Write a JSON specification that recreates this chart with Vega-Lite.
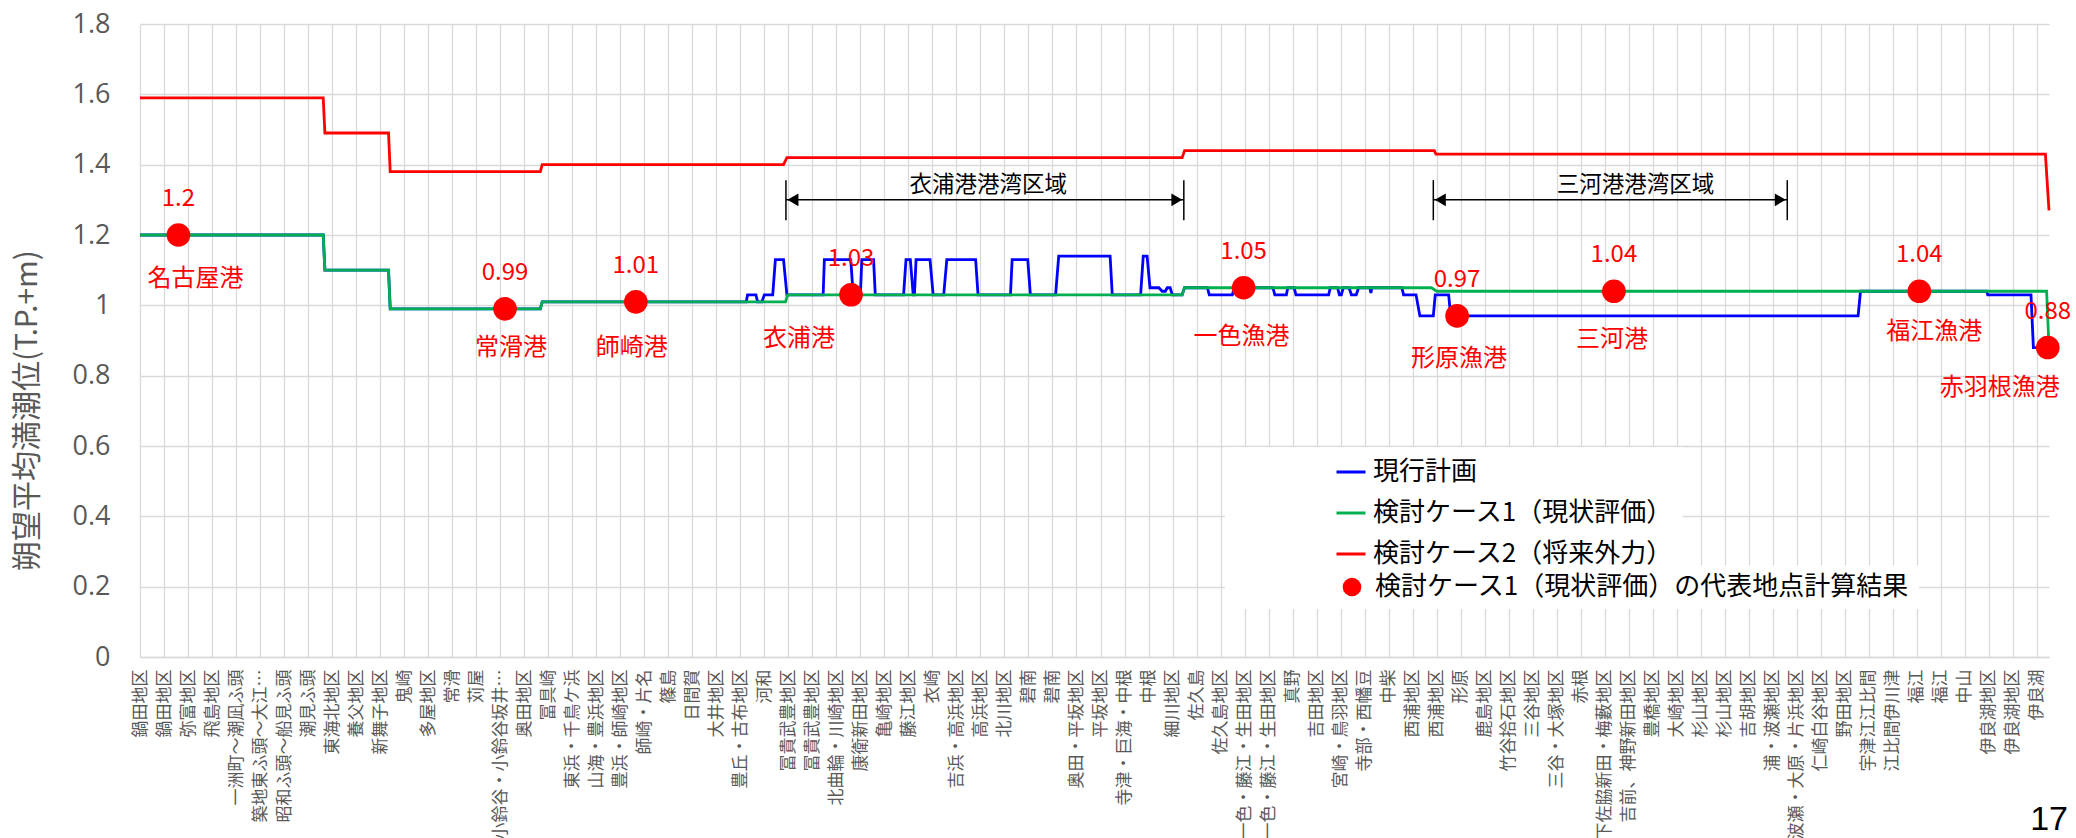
{
  "$schema": "https://vega.github.io/schema/vega-lite/v6.json",
  "width": 1909,
  "height": 633,
  "autosize": {"type": "none"},
  "padding": {"left": 140, "top": 24, "right": 27, "bottom": 181},
  "background": "white",
  "config": {"font": "Noto Sans CJK JP", "view": {"stroke": null}},
  "title": {"text": "17", "orient": "bottom", "anchor": "end", "frame": "group", "align": "right", "baseline": "alphabetic", "fontSize": 34, "fontWeight": "normal", "color": "#000000", "font": "Liberation Sans", "offset": -9, "dx": 19},
  "datasets": {
    "lines": [
      {"series": "現行計画", "i": 0, "x": 0, "y": 1.2},
      {"series": "現行計画", "i": 1, "x": 7.63, "y": 1.2},
      {"series": "現行計画", "i": 2, "x": 7.7, "y": 1.1},
      {"series": "現行計画", "i": 3, "x": 10.35, "y": 1.1},
      {"series": "現行計画", "i": 4, "x": 10.42, "y": 0.99},
      {"series": "現行計画", "i": 5, "x": 16.67, "y": 0.99},
      {"series": "現行計画", "i": 6, "x": 16.75, "y": 1.01},
      {"series": "現行計画", "i": 7, "x": 25.25, "y": 1.01},
      {"series": "現行計画", "i": 8, "x": 25.3, "y": 1.03},
      {"series": "現行計画", "i": 9, "x": 25.65, "y": 1.03},
      {"series": "現行計画", "i": 10, "x": 25.72, "y": 1.01},
      {"series": "現行計画", "i": 11, "x": 25.9, "y": 1.01},
      {"series": "現行計画", "i": 12, "x": 26.0, "y": 1.03},
      {"series": "現行計画", "i": 13, "x": 26.35, "y": 1.03},
      {"series": "現行計画", "i": 14, "x": 26.46, "y": 1.13},
      {"series": "現行計画", "i": 15, "x": 26.8, "y": 1.13},
      {"series": "現行計画", "i": 16, "x": 26.94, "y": 1.03},
      {"series": "現行計画", "i": 17, "x": 28.45, "y": 1.03},
      {"series": "現行計画", "i": 18, "x": 28.5, "y": 1.13},
      {"series": "現行計画", "i": 19, "x": 29.6, "y": 1.13},
      {"series": "現行計画", "i": 20, "x": 29.7, "y": 1.03},
      {"series": "現行計画", "i": 21, "x": 30.0, "y": 1.03},
      {"series": "現行計画", "i": 22, "x": 30.06, "y": 1.13},
      {"series": "現行計画", "i": 23, "x": 30.55, "y": 1.13},
      {"series": "現行計画", "i": 24, "x": 30.62, "y": 1.03},
      {"series": "現行計画", "i": 25, "x": 31.8, "y": 1.03},
      {"series": "現行計画", "i": 26, "x": 31.9, "y": 1.13},
      {"series": "現行計画", "i": 27, "x": 32.08, "y": 1.13},
      {"series": "現行計画", "i": 28, "x": 32.2, "y": 1.03},
      {"series": "現行計画", "i": 29, "x": 32.25, "y": 1.03},
      {"series": "現行計画", "i": 30, "x": 32.32, "y": 1.13},
      {"series": "現行計画", "i": 31, "x": 32.9, "y": 1.13},
      {"series": "現行計画", "i": 32, "x": 33.03, "y": 1.03},
      {"series": "現行計画", "i": 33, "x": 33.47, "y": 1.03},
      {"series": "現行計画", "i": 34, "x": 33.6, "y": 1.13},
      {"series": "現行計画", "i": 35, "x": 34.8, "y": 1.13},
      {"series": "現行計画", "i": 36, "x": 34.9, "y": 1.03},
      {"series": "現行計画", "i": 37, "x": 36.25, "y": 1.03},
      {"series": "現行計画", "i": 38, "x": 36.32, "y": 1.13},
      {"series": "現行計画", "i": 39, "x": 36.97, "y": 1.13},
      {"series": "現行計画", "i": 40, "x": 37.08, "y": 1.03},
      {"series": "現行計画", "i": 41, "x": 38.13, "y": 1.03},
      {"series": "現行計画", "i": 42, "x": 38.26, "y": 1.14},
      {"series": "現行計画", "i": 43, "x": 40.4, "y": 1.14},
      {"series": "現行計画", "i": 44, "x": 40.49, "y": 1.03},
      {"series": "現行計画", "i": 45, "x": 41.67, "y": 1.03},
      {"series": "現行計画", "i": 46, "x": 41.78, "y": 1.14},
      {"series": "現行計画", "i": 47, "x": 41.94, "y": 1.14},
      {"series": "現行計画", "i": 48, "x": 42.06, "y": 1.05},
      {"series": "現行計画", "i": 49, "x": 42.43, "y": 1.05},
      {"series": "現行計画", "i": 50, "x": 42.57, "y": 1.04},
      {"series": "現行計画", "i": 51, "x": 42.7, "y": 1.04},
      {"series": "現行計画", "i": 52, "x": 42.78, "y": 1.05},
      {"series": "現行計画", "i": 53, "x": 42.9, "y": 1.05},
      {"series": "現行計画", "i": 54, "x": 42.99, "y": 1.03},
      {"series": "現行計画", "i": 55, "x": 43.4, "y": 1.03},
      {"series": "現行計画", "i": 56, "x": 43.5, "y": 1.05},
      {"series": "現行計画", "i": 57, "x": 44.45, "y": 1.05},
      {"series": "現行計画", "i": 58, "x": 44.53, "y": 1.03},
      {"series": "現行計画", "i": 59, "x": 45.49, "y": 1.03},
      {"series": "現行計画", "i": 60, "x": 45.57, "y": 1.05},
      {"series": "現行計画", "i": 61, "x": 47.18, "y": 1.05},
      {"series": "現行計画", "i": 62, "x": 47.26, "y": 1.03},
      {"series": "現行計画", "i": 63, "x": 47.74, "y": 1.03},
      {"series": "現行計画", "i": 64, "x": 47.8, "y": 1.05},
      {"series": "現行計画", "i": 65, "x": 48.06, "y": 1.05},
      {"series": "現行計画", "i": 66, "x": 48.14, "y": 1.03},
      {"series": "現行計画", "i": 67, "x": 49.5, "y": 1.03},
      {"series": "現行計画", "i": 68, "x": 49.57, "y": 1.05},
      {"series": "現行計画", "i": 69, "x": 49.87, "y": 1.05},
      {"series": "現行計画", "i": 70, "x": 49.95, "y": 1.03},
      {"series": "現行計画", "i": 71, "x": 50.03, "y": 1.03},
      {"series": "現行計画", "i": 72, "x": 50.11, "y": 1.05},
      {"series": "現行計画", "i": 73, "x": 50.35, "y": 1.05},
      {"series": "現行計画", "i": 74, "x": 50.45, "y": 1.03},
      {"series": "現行計画", "i": 75, "x": 50.65, "y": 1.03},
      {"series": "現行計画", "i": 76, "x": 50.75, "y": 1.05},
      {"series": "現行計画", "i": 77, "x": 51.22, "y": 1.05},
      {"series": "現行計画", "i": 78, "x": 51.26, "y": 1.035},
      {"series": "現行計画", "i": 79, "x": 51.3, "y": 1.05},
      {"series": "現行計画", "i": 80, "x": 52.55, "y": 1.05},
      {"series": "現行計画", "i": 81, "x": 52.62, "y": 1.03},
      {"series": "現行計画", "i": 82, "x": 53.14, "y": 1.03},
      {"series": "現行計画", "i": 83, "x": 53.3, "y": 0.97},
      {"series": "現行計画", "i": 84, "x": 53.86, "y": 0.97},
      {"series": "現行計画", "i": 85, "x": 53.94, "y": 1.03},
      {"series": "現行計画", "i": 86, "x": 54.5, "y": 1.03},
      {"series": "現行計画", "i": 87, "x": 54.58, "y": 0.97},
      {"series": "現行計画", "i": 88, "x": 71.55, "y": 0.97},
      {"series": "現行計画", "i": 89, "x": 71.65, "y": 1.04},
      {"series": "現行計画", "i": 90, "x": 76.9, "y": 1.04},
      {"series": "現行計画", "i": 91, "x": 76.95, "y": 1.03},
      {"series": "現行計画", "i": 92, "x": 78.75, "y": 1.03},
      {"series": "現行計画", "i": 93, "x": 78.85, "y": 0.88},
      {"series": "現行計画", "i": 94, "x": 79.5, "y": 0.88},
      {"series": "検討ケース1（現状評価）", "i": 0, "x": 0, "y": 1.2},
      {"series": "検討ケース1（現状評価）", "i": 1, "x": 7.63, "y": 1.2},
      {"series": "検討ケース1（現状評価）", "i": 2, "x": 7.7, "y": 1.1},
      {"series": "検討ケース1（現状評価）", "i": 3, "x": 10.35, "y": 1.1},
      {"series": "検討ケース1（現状評価）", "i": 4, "x": 10.42, "y": 0.99},
      {"series": "検討ケース1（現状評価）", "i": 5, "x": 16.67, "y": 0.99},
      {"series": "検討ケース1（現状評価）", "i": 6, "x": 16.75, "y": 1.01},
      {"series": "検討ケース1（現状評価）", "i": 7, "x": 26.88, "y": 1.01},
      {"series": "検討ケース1（現状評価）", "i": 8, "x": 26.97, "y": 1.03},
      {"series": "検討ケース1（現状評価）", "i": 9, "x": 43.4, "y": 1.03},
      {"series": "検討ケース1（現状評価）", "i": 10, "x": 43.5, "y": 1.05},
      {"series": "検討ケース1（現状評価）", "i": 11, "x": 53.78, "y": 1.05},
      {"series": "検討ケース1（現状評価）", "i": 12, "x": 54.0, "y": 1.04},
      {"series": "検討ケース1（現状評価）", "i": 13, "x": 79.4, "y": 1.04},
      {"series": "検討ケース1（現状評価）", "i": 14, "x": 79.5, "y": 0.88},
      {"series": "検討ケース2（将来外力）", "i": 0, "x": 0, "y": 1.59},
      {"series": "検討ケース2（将来外力）", "i": 1, "x": 7.63, "y": 1.59},
      {"series": "検討ケース2（将来外力）", "i": 2, "x": 7.7, "y": 1.49},
      {"series": "検討ケース2（将来外力）", "i": 3, "x": 10.35, "y": 1.49},
      {"series": "検討ケース2（将来外力）", "i": 4, "x": 10.42, "y": 1.38},
      {"series": "検討ケース2（将来外力）", "i": 5, "x": 16.67, "y": 1.38},
      {"series": "検討ケース2（将来外力）", "i": 6, "x": 16.75, "y": 1.4},
      {"series": "検討ケース2（将来外力）", "i": 7, "x": 26.8, "y": 1.4},
      {"series": "検討ケース2（将来外力）", "i": 8, "x": 26.94, "y": 1.42},
      {"series": "検討ケース2（将来外力）", "i": 9, "x": 43.4, "y": 1.42},
      {"series": "検討ケース2（将来外力）", "i": 10, "x": 43.5, "y": 1.44},
      {"series": "検討ケース2（将来外力）", "i": 11, "x": 53.9, "y": 1.44},
      {"series": "検討ケース2（将来外力）", "i": 12, "x": 53.97, "y": 1.43},
      {"series": "検討ケース2（将来外力）", "i": 13, "x": 79.35, "y": 1.43},
      {"series": "検討ケース2（将来外力）", "i": 14, "x": 79.5, "y": 1.27}
    ],
    "points": [
      {"name": "名古屋港", "x": 1.6, "value": 1.2, "label": "1.2"},
      {"name": "常滑港", "x": 15.2, "value": 0.99, "label": "0.99"},
      {"name": "師崎港", "x": 20.65, "value": 1.01, "label": "1.01"},
      {"name": "衣浦港", "x": 29.61, "value": 1.03, "label": "1.03"},
      {"name": "一色漁港", "x": 45.96, "value": 1.05, "label": "1.05"},
      {"name": "形原漁港", "x": 54.85, "value": 0.97, "label": "0.97"},
      {"name": "三河港", "x": 61.38, "value": 1.04, "label": "1.04"},
      {"name": "福江漁港", "x": 74.1, "value": 1.04, "label": "1.04"},
      {"name": "赤羽根漁港", "x": 79.45, "value": 0.88, "label": "0.88"}
    ],
    "regions": [
      {"region": "衣浦港港湾区域", "x1": 26.9, "x2": 43.47, "xm": 35.33, "y": 1.3, "ybot": 1.242, "ytop": 1.356},
      {"region": "三河港港湾区域", "x1": 53.86, "x2": 68.6, "xm": 62.28, "y": 1.3, "ybot": 1.242, "ytop": 1.356}
    ]
  },
  "encoding": {
    "x": {
      "field": "x", "type": "quantitative",
      "scale": {"domain": [0, 79.5], "nice": false, "zero": false},
      "axis": {
        "title": null,
        "values": [0,1,2,3,4,5,6,7,8,9,10,11,12,13,14,15,16,17,18,19,20,21,22,23,24,25,26,27,28,29,30,31,32,33,34,35,36,37,38,39,40,41,42,43,44,45,46,47,48,49,50,51,52,53,54,55,56,57,58,59,60,61,62,63,64,65,66,67,68,69,70,71,72,73,74,75,76,77,78,79],
        "labelExpr": "['鍋田地区','鍋田地区','弥富地区','飛島地区','一洲町～潮凪ふ頭','築地東ふ頭～大江…','昭和ふ頭～船見ふ頭','潮見ふ頭','東海北地区','養父地区','新舞子地区','鬼崎','多屋地区','常滑','苅屋','小鈴谷・小鈴谷坂井…','奥田地区','冨具崎','東浜・千鳥ケ浜','山海・豊浜地区','豊浜・師崎地区','師崎・片名','篠島','日間賀','大井地区','豊丘・古布地区','河和','冨貴武豊地区','冨貴武豊地区','北曲輪・川崎地区','康衛新田地区','亀崎地区','藤江地区','衣崎','吉浜・高浜地区','高浜地区','北川地区','碧南','碧南','奥田・平坂地区','平坂地区','寺津・巨海・中根','中根','細川地区','佐久島','佐久島地区','一色・藤江・生田地区','一色・藤江・生田地区','真野','吉田地区','宮崎・鳥羽地区','寺部・西幡豆','中柴','西浦地区','西浦地区','形原','鹿島地区','竹谷拾石地区','三谷地区','三谷・大塚地区','赤根','下佐脇新田・梅藪地区','吉前、神野新田地区','豊橋地区','大崎地区','杉山地区','杉山地区','吉胡地区','浦・波瀬地区','波瀬・大原・片浜地区','仁崎白谷地区','野田地区','宇津江江比間','江比間伊川津','福江','福江','中山','伊良湖地区','伊良湖地区','伊良湖'][datum.value]",
        "labelAngle": 270, "labelAlign": "right", "labelBaseline": "middle",
        "labelFontSize": 17, "labelColor": "#595959", "labelPadding": 12,
        "labelOverlap": false, "labelLimit": 400, "labelBound": false, "labelFlush": false,
        "ticks": false, "domainColor": "#d9d9d9", "domainWidth": 1.5,
        "grid": true, "gridColor": "#d9d9d9", "gridWidth": 1.3
      }
    },
    "y": {
      "field": "y", "type": "quantitative",
      "scale": {"domain": [0, 1.8], "nice": false, "zero": true},
      "axis": {
        "title": "朔望平均満潮位(T.P.+m)",
        "values": [0, 0.2, 0.4, 0.6, 0.8, 1, 1.2, 1.4, 1.6, 1.8],
        "format": "~g",
        "labelFontSize": 27, "labelColor": "#595959", "labelPadding": 30, "labelFont": "Open Sans",
        "ticks": false, "domain": false,
        "grid": true, "gridColor": "#d9d9d9", "gridWidth": 1.3,
        "titleFontSize": 30, "titleColor": "#595959", "titleFontWeight": "normal",
        "titleAngle": 270, "titleX": -113, "titleY": 386, "titleAlign": "center", "titleBaseline": "middle"
      }
    }
  },
  "layer": [
    {
      "data": {"name": "lines"},
      "transform": [{"filter": "datum.series == '現行計画'"}],
      "mark": {"type": "line", "strokeWidth": 2.8},
      "encoding": {
        "order": {"field": "i", "type": "quantitative"},
        "color": {
          "field": "series", "type": "nominal",
          "scale": {"domain": ["現行計画", "検討ケース1（現状評価）", "検討ケース2（将来外力）"], "range": ["#0000ff", "#00b050", "#ff0000"]},
          "legend": {"title": null, "orient": "none", "legendX": 1085, "legendY": 423, "symbolType": "stroke", "symbolStrokeWidth": 3, "symbolSize": 841, "symbolOffset": 101, "labelFontSize": 26, "labelColor": "#000000", "labelLimit": 1000, "rowPadding": 12, "labelOffset": 6, "padding": 9, "fillColor": "#ffffff"}
        }
      }
    },
    {
      "data": {"name": "lines"},
      "transform": [{"filter": "datum.series == '検討ケース1（現状評価）'"}],
      "mark": {"type": "line", "strokeWidth": 2.8},
      "encoding": {
        "order": {"field": "i", "type": "quantitative"},
        "color": {"field": "series", "type": "nominal"}
      }
    },
    {
      "data": {"name": "lines"},
      "transform": [{"filter": "datum.series == '検討ケース2（将来外力）'"}],
      "mark": {"type": "line", "strokeWidth": 2.8},
      "encoding": {
        "order": {"field": "i", "type": "quantitative"},
        "color": {"field": "series", "type": "nominal"}
      }
    },
    {
      "data": {"name": "regions"},
      "mark": {"type": "rule", "color": "#000000", "strokeWidth": 1.5},
      "encoding": {"x": {"field": "x1", "type": "quantitative"}, "x2": {"field": "x2"}, "y": {"field": "y", "type": "quantitative"}}
    },
    {
      "data": {"name": "regions"},
      "mark": {"type": "rule", "color": "#000000", "strokeWidth": 1.5},
      "encoding": {"x": {"field": "x1", "type": "quantitative"}, "y": {"field": "ybot", "type": "quantitative"}, "y2": {"field": "ytop"}}
    },
    {
      "data": {"name": "regions"},
      "mark": {"type": "rule", "color": "#000000", "strokeWidth": 1.5},
      "encoding": {"x": {"field": "x2", "type": "quantitative"}, "y": {"field": "ybot", "type": "quantitative"}, "y2": {"field": "ytop"}}
    },
    {
      "data": {"name": "regions"},
      "mark": {"type": "point", "shape": "triangle-left", "filled": true, "color": "#000000", "size": 160, "opacity": 1, "xOffset": 7},
      "encoding": {"x": {"field": "x1", "type": "quantitative"}, "y": {"field": "y", "type": "quantitative"}}
    },
    {
      "data": {"name": "regions"},
      "mark": {"type": "point", "shape": "triangle-right", "filled": true, "color": "#000000", "size": 160, "opacity": 1, "xOffset": -7},
      "encoding": {"x": {"field": "x2", "type": "quantitative"}, "y": {"field": "y", "type": "quantitative"}}
    },
    {
      "data": {"name": "regions"},
      "mark": {"type": "text", "fontSize": 22.5, "color": "#000000", "baseline": "bottom", "dy": -3},
      "encoding": {"x": {"field": "xm", "type": "quantitative"}, "y": {"field": "y", "type": "quantitative"}, "text": {"field": "region"}}
    },
    {
      "data": {"name": "points"},
      "transform": [{"calculate": "'検討ケース1（現状評価）の代表地点計算結果'", "as": "kind"}],
      "mark": {"type": "point", "filled": true, "color": "#ff0000", "size": 560, "opacity": 1},
      "encoding": {
        "x": {"field": "x", "type": "quantitative"},
        "y": {"field": "value", "type": "quantitative"},
        "shape": {
          "field": "kind", "type": "nominal",
          "scale": {"range": ["circle"]},
          "legend": {"title": null, "orient": "none", "legendX": 1085, "legendY": 541, "symbolFillColor": "#ff0000", "symbolStrokeColor": "#ff0000", "symbolSize": 346, "symbolOpacity": 1, "symbolOffset": 105, "labelFontSize": 26, "labelColor": "#000000", "labelLimit": 1000, "labelOffset": 10, "padding": 9, "fillColor": "#ffffff"}
        }
      }
    },
    {
      "data": {"name": "points"},
      "mark": {"type": "text", "fontSize": 24, "color": "#ff0000", "baseline": "alphabetic", "dy": -29},
      "encoding": {"x": {"field": "x", "type": "quantitative"}, "y": {"field": "value", "type": "quantitative"}, "text": {"field": "label"}}
    },
    {
      "data": {"name": "points"},
      "transform": [{"filter": "datum.name == '名古屋港'"}],
      "mark": {"type": "text", "fontSize": 24, "color": "#ff0000", "baseline": "middle", "dy": 44, "dx": 17},
      "encoding": {"x": {"field": "x", "type": "quantitative"}, "y": {"field": "value", "type": "quantitative"}, "text": {"field": "name"}}
    },
    {
      "data": {"name": "points"},
      "transform": [{"filter": "datum.name == '常滑港'"}],
      "mark": {"type": "text", "fontSize": 24, "color": "#ff0000", "baseline": "middle", "dy": 39, "dx": 6},
      "encoding": {"x": {"field": "x", "type": "quantitative"}, "y": {"field": "value", "type": "quantitative"}, "text": {"field": "name"}}
    },
    {
      "data": {"name": "points"},
      "transform": [{"filter": "datum.name == '師崎港'"}],
      "mark": {"type": "text", "fontSize": 24, "color": "#ff0000", "baseline": "middle", "dy": 46, "dx": -4},
      "encoding": {"x": {"field": "x", "type": "quantitative"}, "y": {"field": "value", "type": "quantitative"}, "text": {"field": "name"}}
    },
    {
      "data": {"name": "points"},
      "transform": [{"filter": "datum.name == '衣浦港'"}],
      "mark": {"type": "text", "fontSize": 24, "color": "#ff0000", "baseline": "middle", "dy": 44, "dx": -52},
      "encoding": {"x": {"field": "x", "type": "quantitative"}, "y": {"field": "value", "type": "quantitative"}, "text": {"field": "name"}}
    },
    {
      "data": {"name": "points"},
      "transform": [{"filter": "datum.name == '一色漁港' || datum.name == '三河港'"}],
      "mark": {"type": "text", "fontSize": 24, "color": "#ff0000", "baseline": "middle", "dy": 49, "dx": -2},
      "encoding": {"x": {"field": "x", "type": "quantitative"}, "y": {"field": "value", "type": "quantitative"}, "text": {"field": "name"}}
    },
    {
      "data": {"name": "points"},
      "transform": [{"filter": "datum.name == '形原漁港'"}],
      "mark": {"type": "text", "fontSize": 24, "color": "#ff0000", "baseline": "middle", "dy": 43, "dx": 2},
      "encoding": {"x": {"field": "x", "type": "quantitative"}, "y": {"field": "value", "type": "quantitative"}, "text": {"field": "name"}}
    },
    {
      "data": {"name": "points"},
      "transform": [{"filter": "datum.name == '福江漁港'"}],
      "mark": {"type": "text", "fontSize": 24, "color": "#ff0000", "baseline": "middle", "dy": 41, "dx": 15},
      "encoding": {"x": {"field": "x", "type": "quantitative"}, "y": {"field": "value", "type": "quantitative"}, "text": {"field": "name"}}
    },
    {
      "data": {"name": "points"},
      "transform": [{"filter": "datum.name == '赤羽根漁港'"}],
      "mark": {"type": "text", "fontSize": 24, "color": "#ff0000", "baseline": "middle", "dy": 40, "dx": -48},
      "encoding": {"x": {"field": "x", "type": "quantitative"}, "y": {"field": "value", "type": "quantitative"}, "text": {"field": "name"}}
    }
  ]
}
